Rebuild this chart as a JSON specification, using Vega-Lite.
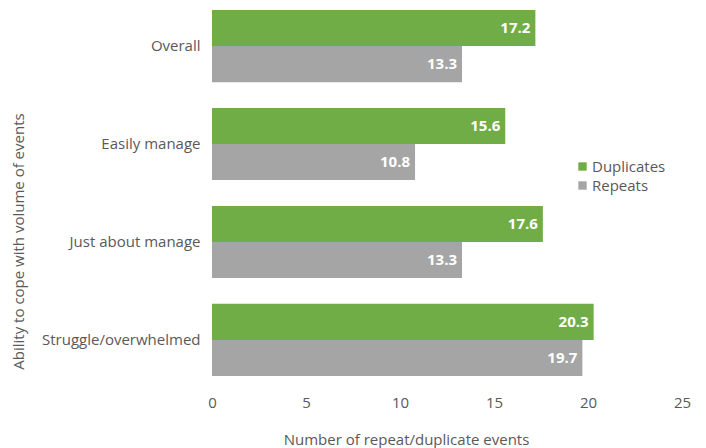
{
  "$schema": "https://vega.github.io/schema/vega-lite/v6.json",
  "width": 470,
  "height": 386,
  "autosize": {"type": "none"},
  "padding": {"left": 212, "top": 0, "right": 24, "bottom": 62},
  "config": {
    "view": {"stroke": null},
    "font": "Open Sans",
    "axis": {"labelFont": "Open Sans", "titleFont": "Open Sans", "labelColor": "#595959", "titleColor": "#595959", "labelFontSize": 15, "titleFontSize": 15, "titleFontWeight": "normal"}
  },
  "data": {
    "values": [
      {"group": "Overall", "series": "Duplicates", "value": 17.2},
      {"group": "Overall", "series": "Repeats", "value": 13.3},
      {"group": "Easily manage\u00a0", "series": "Duplicates", "value": 15.6},
      {"group": "Easily manage\u00a0", "series": "Repeats", "value": 10.8},
      {"group": "Just about manage", "series": "Duplicates", "value": 17.6},
      {"group": "Just about manage", "series": "Repeats", "value": 13.3},
      {"group": "Struggle/overwhelmed", "series": "Duplicates", "value": 20.3},
      {"group": "Struggle/overwhelmed", "series": "Repeats", "value": 19.7}
    ]
  },
  "encoding": {
    "y": {
      "field": "group", "type": "nominal",
      "sort": ["Overall", "Easily manage\u00a0", "Just about manage", "Struggle/overwhelmed"],
      "scale": {"paddingInner": 0.263, "paddingOuter": 0.102},
      "axis": {"title": "Ability to cope with volume of events", "ticks": false, "domain": false, "labelPadding": 12, "titleX": -186, "titleY": 241}
    },
    "yOffset": {"field": "series", "type": "nominal", "sort": ["Duplicates", "Repeats"]},
    "x": {
      "field": "value", "type": "quantitative",
      "scale": {"domain": [0, 25]},
      "axis": {"title": "Number of repeat/duplicate events", "values": [0, 5, 10, 15, 20, 25], "ticks": false, "domain": false, "grid": false, "labelFlush": false, "labelPadding": 9, "titlePadding": 22, "titleX": 194}
    }
  },
  "layer": [
    {
      "mark": {"type": "bar"},
      "encoding": {
        "color": {
          "field": "series", "type": "nominal",
          "scale": {"domain": ["Duplicates", "Repeats"], "range": ["#70AD47", "#A5A5A5"]},
          "legend": {"title": null, "orient": "none", "legendX": 363, "legendY": 159, "symbolType": "square", "symbolSize": 70, "symbolStrokeWidth": 0, "labelFontSize": 15, "labelColor": "#595959", "labelFont": "Open Sans", "rowPadding": 3, "symbolOffset": 0, "labelOffset": 2}
        }
      }
    },
    {
      "mark": {"type": "text", "align": "right", "dx": -5, "color": "white", "fontWeight": "bold", "fontSize": 15, "baseline": "middle"},
      "encoding": {"text": {"field": "value", "type": "quantitative", "format": ".1f"}}
    }
  ]
}
